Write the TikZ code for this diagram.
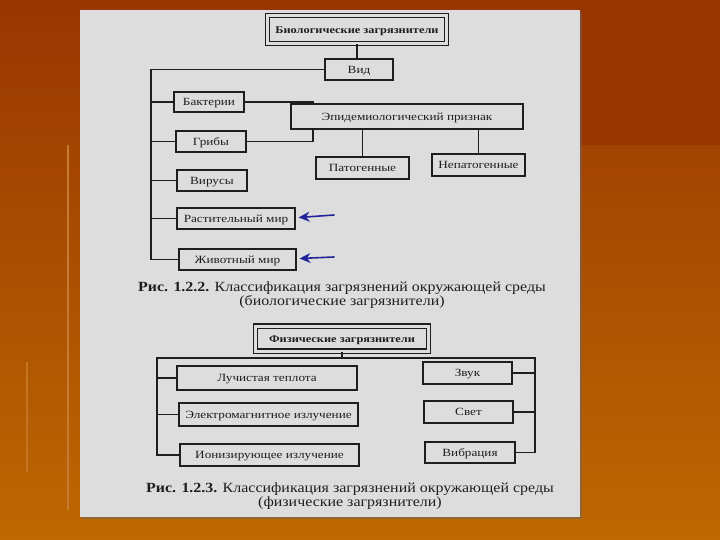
\documentclass[tikz,border=0pt]{standalone}
\usepackage{fontspec}
\setmainfont{Liberation Serif}
\newfontfamily\scanfont[FakeStretch=1.2]{Liberation Serif}
\newfontfamily\capfont[FakeStretch=1.14]{Liberation Serif}
\usetikzlibrary{arrows.meta}
\definecolor{bgtop}{HTML}{983602}
\definecolor{bgbot}{HTML}{BD6802}
\definecolor{paper}{HTML}{DDDDDE}
\definecolor{ink}{HTML}{1E1E1E}
\definecolor{pen}{HTML}{23239A}
\definecolor{streak}{HTML}{C77A32}
\tikzset{
  box/.style={draw=ink, line width=1.1pt, fill=paper, inner sep=0pt, text height=8pt, text depth=0.5pt,
    font=\scanfont\fontsize{11}{12}\selectfont, text=ink},
  dbox/.style={draw=ink, line width=1.1pt, double=paper, double distance=3pt, fill=paper, inner sep=0pt,
    text height=8pt, text depth=0.5pt, font=\scanfont\fontsize{10.3}{12}\selectfont\bfseries, text=ink},
  wire/.style={draw=ink, line width=1.1pt},
  caption/.style={font=\capfont\fontsize{14}{16}\selectfont, text=ink, inner sep=0pt},
  penline/.style={draw=pen, line width=1.6pt, line cap=round, -{Stealth[length=11pt,width=10pt]}}
}
\begin{document}
\begin{tikzpicture}[x=1pt,y=-1pt]
\useasboundingbox (0,0) rectangle (720,540);
% background
\shade[top color=bgtop, bottom color=bgbot] (0,0) rectangle (720,540);
\fill[bgtop] (580,0) rectangle (720,145);
\draw[streak, line width=1.6pt] (68,145) -- (68,510);
\draw[streak!70!bgbot, line width=1.4pt] (27,362) -- (27,472);
% page
\fill[black!60, opacity=0.5] (82,12) rectangle (582,519);
\fill[paper] (80,10) rectangle (580,517);

% ---------- biological ----------
\node[dbox, minimum width=179pt, minimum height=28pt] (bio) at (357,29.5) {Биологические загрязнители};
\node[box, minimum width=68pt, minimum height=21pt] (vid) at (359,69.5) {Вид};
\node[box, minimum width=70pt, minimum height=20pt] (bakt) at (209,102) {Бактерии};
\node[box, minimum width=70pt, minimum height=21pt] (grib) at (211,141.5) {Грибы};
\node[box, minimum width=70pt, minimum height=21pt] (vir) at (212,180.5) {Вирусы};
\node[box, minimum width=118pt, minimum height=21pt] (rast) at (236,218.5) {Растительный мир};
\node[box, minimum width=117pt, minimum height=21pt] (zhiv) at (237.5,259.5) {Животный мир};

\coordinate (trunk) at (151,69.5);
\coordinate (epx) at (313,100);
\draw[wire] (bio.south) -- (bio.south |- vid.north);
\draw[wire] (vid.west) -- (trunk) -- (trunk |- zhiv.west) -- (zhiv.west);
\foreach \n in {bakt,grib,vir,rast} \draw[wire] (\n.west) -- (\n.west -| trunk);
\draw[wire] (bakt.east) -- (bakt.east -| epx) -- (grib.east -| epx) -- (grib.east);

\node[box, minimum width=232pt, minimum height=25pt] (epid) at (407,116.5) {Эпидемиологический признак};
\node[box, minimum width=93pt, minimum height=22pt] (pat) at (362.5,168) {Патогенные};
\node[box, minimum width=93pt, minimum height=22pt] (nepat) at (478.5,165) {Непатогенные};
\draw[wire] (pat.north |- epid.south) -- (pat.north);
\draw[wire] (nepat.north |- epid.south) -- (nepat.north);

% hand-drawn arrows
\coordinate (a1) at (334,215);
\coordinate (a2) at (334,257);
\draw[penline] (a1) -- ([xshift=3pt,yshift=1pt]rast.east);
\draw[penline] (a2) -- ([xshift=3pt,yshift=1pt]zhiv.east);

\node[caption] (cap1) at (342,288) {\textbf{Рис. 1.2.2.} Классификация загрязнений окружающей среды};
\node[caption] (cap1b) at (342,302) {(биологические загрязнители)};

% ---------- physical ----------
\node[dbox, minimum width=173pt, minimum height=25pt] (fiz) at (342,338.5) {Физические загрязнители};
\node[box, minimum width=180pt, minimum height=24pt] (luch) at (267,378) {Лучистая теплота};
\node[box, minimum width=179pt, minimum height=23pt] (elm) at (268.5,414.5) {Электромагнитное излучение};
\node[box, minimum width=179pt, minimum height=22pt] (ion) at (269.5,455) {Ионизирующее излучение};
\node[box, minimum width=89pt, minimum height=22pt] (zvuk) at (467.5,373) {Звук};
\node[box, minimum width=89pt, minimum height=22pt] (svet) at (468.5,412) {Свет};
\node[box, minimum width=90pt, minimum height=21pt] (vib) at (470,452.5) {Вибрация};

\coordinate (barL) at (157,358);
\coordinate (barR) at (535,358);
\draw[wire] (fiz.south) -- (fiz.south |- barL);
\draw[wire] (ion.west) -- (ion.west -| barL) -- (barL) -- (barR) -- (barR |- vib.east) -- (vib.east);
\foreach \n in {luch,elm} \draw[wire] (\n.west) -- (\n.west -| barL);
\foreach \n in {zvuk,svet} \draw[wire] (\n.east) -- (\n.east -| barR);

\node[caption] (cap2) at (350,489) {\textbf{Рис. 1.2.3.} Классификация загрязнений окружающей среды};
\node[caption] (cap2b) at (350,503) {(физические загрязнители)};
\end{tikzpicture}
\end{document}
